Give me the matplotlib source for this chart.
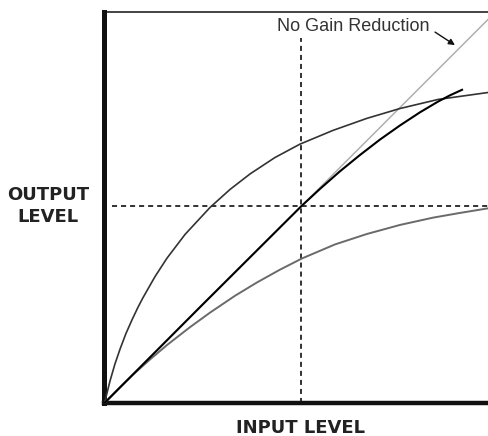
import matplotlib
matplotlib.use("Agg")
import matplotlib.pyplot as plt

# Data (input level, output level); 1.0 = threshold point
upper_x = [0, 0.028, 0.053, 0.079, 0.109, 0.140, 0.170, 0.195, 0.256, 0.317, 0.409,
           0.536, 0.637, 0.739, 0.865, 0.992, 1.160, 1.332, 1.500, 1.693, 1.952]
upper_y = [0, 0.112, 0.198, 0.274, 0.353, 0.423, 0.486, 0.534, 0.641, 0.735, 0.856,
           0.993, 1.084, 1.163, 1.246, 1.314, 1.384, 1.445, 1.495, 1.541, 1.577]

black_x = [0, 0.485, 1.000, 1.094, 1.195, 1.297, 1.398, 1.500, 1.602, 1.693, 1.754, 1.815]
black_y = [0, 0.487, 1.000, 1.087, 1.176, 1.259, 1.337, 1.409, 1.476, 1.530, 1.562, 1.590]

lower_x = [0, 0.079, 0.145, 0.231, 0.317, 0.434, 0.536, 0.662, 0.774, 0.891, 1.003,
           1.170, 1.332, 1.500, 1.668, 1.805, 1.952]
lower_y = [0, 0.080, 0.144, 0.221, 0.294, 0.385, 0.459, 0.544, 0.612, 0.677, 0.734,
           0.805, 0.858, 0.904, 0.941, 0.965, 0.989]

diag_x = [0, 2.1]
diag_y = [0, 2.1]

threshold = 1.0
x_label = "INPUT LEVEL"
y_label = "OUTPUT\nLEVEL"
note = "No Gain Reduction"

fig = plt.figure(figsize=(4.89, 4.36), dpi=100)
ax = fig.add_axes([104.5 / 489, 33 / 436, (489 - 104.5) / 489, (424 - 33) / 436])
ax.set_xlim(0, 1.952)
ax.set_ylim(0, 1.985)

ax.plot(diag_x, diag_y, color="#b0b0b0", lw=1.1, zorder=2)
ax.plot(upper_x, upper_y, color="#333333", lw=1.2, zorder=3)
ax.plot(lower_x, lower_y, color="#6a6a6a", lw=1.4, zorder=3)
ax.plot(black_x, black_y, color="#000000", lw=1.5, zorder=4)

ax.plot([threshold, threshold], [0, 1.853], color="#222222", lw=1.3,
        linestyle=(0, (2.8, 2.2)), zorder=1)
ax.plot([0.038, 2.0], [threshold, threshold], color="#222222", lw=1.3,
        linestyle=(0, (2.8, 2.2)), zorder=1)

ax.text(1.261, 1.909, note, ha="center", va="center", fontsize=13,
        family="Liberation Sans", color="#333333")
ax.annotate("", xy=(1.779, 1.817), xytext=(1.678, 1.883),
            arrowprops=dict(arrowstyle="-|>", color="#111111", lw=1.0,
                            mutation_scale=9, shrinkA=0, shrinkB=0))

ax.spines["right"].set_visible(False)
ax.spines["left"].set_linewidth(3.6)
ax.spines["bottom"].set_linewidth(3.2)
ax.spines["top"].set_linewidth(1.1)
for s in ("left", "bottom", "top"):
    ax.spines[s].set_color("#111111")
ax.set_xticks([])
ax.set_yticks([])

fig.text(301 / 489, 1 - 428 / 436, x_label, ha="center", va="center",
         fontsize=13, fontweight="bold", family="DejaVu Sans", color="#222222")
fig.text(48 / 489, 1 - 206 / 436, y_label, ha="center", va="center",
         fontsize=13, fontweight="bold", family="DejaVu Sans", color="#222222",
         linespacing=1.25)

fig.savefig("out.png", dpi=100)
